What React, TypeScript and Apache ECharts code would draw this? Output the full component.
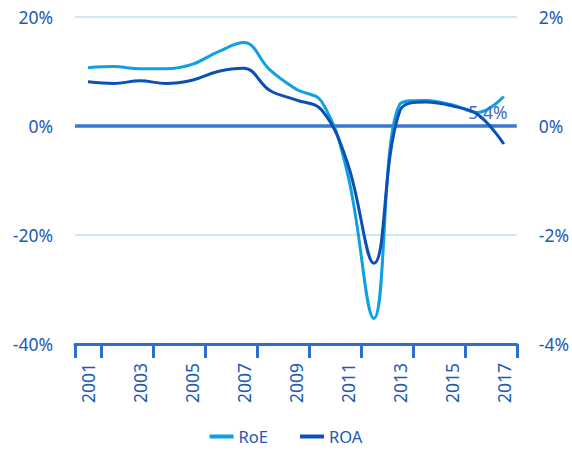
import React, { useEffect, useRef } from "react";
import * as echarts from "echarts";

const years = ["2001","2002","2003","2004","2005","2006","2007","2008","2009","2010","2011","2012","2013","2014","2015","2016","2017"];
const roe = [10.7, 10.9, 10.5, 10.5, 11.3, 13.6, 15.3, 10.3, 6.8, 4.4, -9, -35.3, 4.0, 4.7, 3.9, 2.5, 5.4];
const roa = [0.81, 0.78, 0.83, 0.78, 0.84, 1.0, 1.06, 0.65, 0.48, 0.29, -0.7, -2.52, 0.28, 0.44, 0.37, 0.21, -0.33];
const leftTicks = { min: -40, max: 20, interval: 20 };
const rightTicks = { min: -4, max: 2, interval: 2 };

const FONT = "Noto Sans";
const TEXT = "#2159b5";
const AXIS = "#2e6fcc";
const FS = 17.5;

export default function App() {
  const ref = useRef<HTMLDivElement>(null);
  useEffect(() => {
    const chart = echarts.init(ref.current!, null, { renderer: "svg" });
    const lastIdx = roe.length - 1;
    chart.setOption({
      animation: false,
      textStyle: { fontFamily: FONT },
      grid: { left: 75, right: 54, top: 17, bottom: 106 },
      legend: {
        bottom: 0,
        left: "center",
        icon: "rect",
        itemWidth: 24,
        itemHeight: 4,
        itemGap: 32,
        textStyle: { color: TEXT, fontSize: 16.5, fontFamily: FONT },
        data: ["RoE", "ROA"],
      },
      xAxis: {
        type: "category",
        data: years,
        boundaryGap: true,
        axisLine: { show: true, onZero: false, lineStyle: { color: AXIS, width: 3 } },
        axisTick: {
          show: true,
          length: 14,
          lineStyle: { color: AXIS, width: 3 },
          interval: (i: number) => i === 0 || i % 2 === 1,
        },
        axisLabel: {
          interval: 1,
          rotate: 90,
          margin: 19,
          color: TEXT,
          fontSize: FS,
          fontFamily: FONT,
        },
        splitLine: { show: false },
      },
      yAxis: [
        {
          type: "value",
          ...leftTicks,
          axisLine: { show: false },
          axisTick: { show: false },
          axisLabel: { formatter: "{value}%", color: TEXT, fontSize: FS, margin: 22, fontFamily: FONT },
          splitLine: { show: true, lineStyle: { color: "#b9e1f4", width: 1.5 } },
        },
        {
          type: "value",
          ...rightTicks,
          position: "right",
          axisLine: { show: false },
          axisTick: { show: false },
          axisLabel: { formatter: "{value}%", color: TEXT, fontSize: FS, margin: 22, fontFamily: FONT },
          splitLine: { show: false },
        },
      ],
      series: [
        {
          name: "RoE",
          type: "line",
          yAxisIndex: 0,
          data: roe.map((v, i) =>
            i === lastIdx
              ? {
                  value: v,
                  label: {
                    show: true,
                    position: "bottom",
                    distance: 6,
                    offset: [-16, 0],
                    formatter: "{c}%",
                    color: "#3a6cc4",
                    fontSize: FS,
                    fontFamily: FONT,
                  },
                }
              : v
          ),
          smooth: 0.4,
          showSymbol: true,
          symbol: "circle",
          symbolSize: 0,
          lineStyle: { color: "#0fa0e3", width: 3 },
          itemStyle: { color: "#0fa0e3" },
          z: 3,
          markLine: {
            silent: true,
            symbol: "none",
            label: { show: false },
            lineStyle: { color: "#3a78cf", width: 3.5, type: "solid" },
            data: [{ yAxis: 0 }],
            z: 1,
          },
        },
        {
          name: "ROA",
          type: "line",
          yAxisIndex: 1,
          data: roa,
          smooth: 0.4,
          showSymbol: false,
          symbol: "none",
          lineStyle: { color: "#0c4fb5", width: 3 },
          itemStyle: { color: "#0c4fb5" },
          z: 4,
        },
      ],
    });
    return () => chart.dispose();
  }, []);
  return <div ref={ref} style={{ width: 572, height: 450, position: "absolute", left: 0, top: 0 }} />;
}
